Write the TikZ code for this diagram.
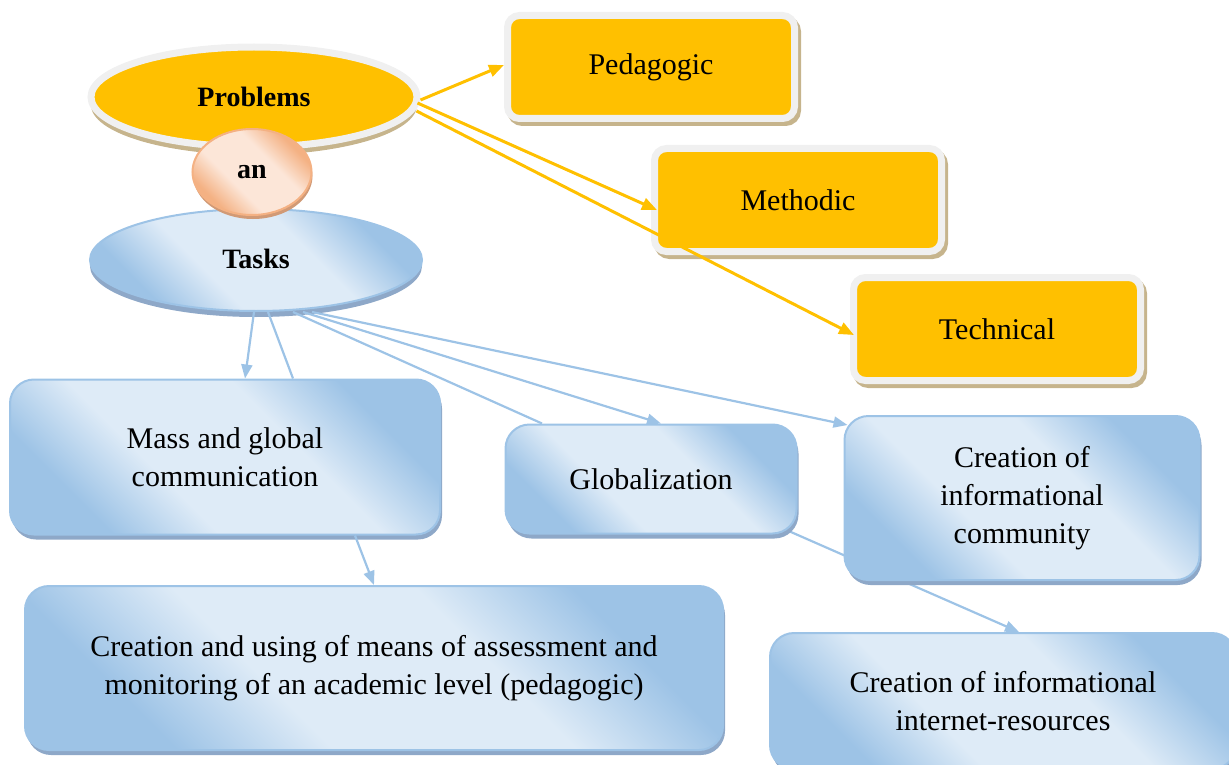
\documentclass[tikz,border=0pt]{standalone}
\usepackage{fontspec}
\setmainfont{Liberation Serif}
\usepackage{tikz}
\usetikzlibrary{shapes.geometric,arrows.meta}
\definecolor{probyellow}{HTML}{FFC000}
\definecolor{rimgrey}{HTML}{F0F0F0}
\definecolor{tanshadow}{HTML}{C6B48C}
\definecolor{blueedge}{HTML}{9DC3E6}
\definecolor{bluepale}{HTML}{DEEBF7}
\definecolor{blueshadow}{HTML}{8EA8C8}
\definecolor{peachedge}{HTML}{F4B183}
\definecolor{peachpale}{HTML}{FCE6D8}
\definecolor{peachshadow}{HTML}{D19A76}
\pgfdeclarehorizontalshading{bluesheen}{100bp}{color(0bp)=(blueedge); color(27bp)=(blueedge); color(40bp)=(bluepale); color(60bp)=(bluepale); color(73bp)=(blueedge); color(100bp)=(blueedge)}
\pgfdeclarehorizontalshading{peachsheen}{100bp}{color(0bp)=(peachedge); color(27bp)=(peachedge); color(40bp)=(peachpale); color(60bp)=(peachpale); color(73bp)=(peachedge); color(100bp)=(peachedge)}
\pgfdeclarelayer{background}
\pgfsetlayers{background,main}
\tikzstyle{every node}=[font=\fontsize{30}{38}\selectfont,align=center,inner sep=0pt]
\tikzstyle{yellowbox}=[rectangle,rounded corners=12pt,fill=probyellow,draw=rimgrey,line width=7pt,minimum width=287pt,minimum height=103pt,preaction={fill=tanshadow,draw=tanshadow,line width=7pt,transform canvas={shift={(3pt,-4pt)}}}]
\tikzstyle{bluebox}=[rectangle,rounded corners=24pt,shading=bluesheen,shading angle=45,draw=blueedge,line width=2pt,preaction={fill=blueshadow,transform canvas={shift={(2pt,-5pt)}}}]
\tikzstyle{bigellipse}=[ellipse,font=\fontsize{28}{34}\selectfont\bfseries]
\tikzstyle{yellowline}=[draw=probyellow,line width=3pt,-{Triangle[length=15pt,width=12pt]}]
\tikzstyle{blueline}=[draw=blueedge,line width=2.2pt]
\tikzstyle{bluearrow}=[blueline,-{Triangle[length=14pt,width=11pt]}]

\begin{document}
\begin{tikzpicture}[x=1pt,y=-1pt]
	\clip (0,0) rectangle (1229,765);
	\node[bigellipse,fill=probyellow,draw=rimgrey,line width=7pt,minimum width=326pt,minimum height=100pt,preaction={fill=tanshadow,transform canvas={shift={(0pt,-8pt)}}}] (prob) at (254,97) {Problems};
	\node[bigellipse,shading=bluesheen,shading angle=45,draw=blueedge,line width=2pt,minimum width=332pt,minimum height=102pt,preaction={fill=blueshadow,transform canvas={shift={(0pt,-6pt)}}}] (tasks) at (256,260) {\raisebox{2pt}{Tasks}};
	\node[bigellipse,shading=peachsheen,shading angle=45,draw=peachedge,line width=2pt,minimum width=119pt,minimum height=86pt,preaction={fill=peachshadow,transform canvas={shift={(1pt,-4pt)}}}] (an) at (252,172) {an};

	\node[yellowbox] (ped) at (651,67) {Pedagogic};
	\node[yellowbox] (meth) at (798,200) {Methodic};
	\node[yellowbox] (tech) at (997,329) {Technical};

	\node[bluebox,minimum width=430pt,minimum height=155pt] (mass) at (225,457) {Mass and global\\communication};
	\node[bluebox,minimum width=291pt,minimum height=109pt] (glob) at (651,479) {Globalization};
	\node[bluebox,minimum width=355pt,minimum height=164pt] (comm) at (1022,498) {Creation of\\informational\\community};
	\node[bluebox,minimum width=698pt,minimum height=164pt] (creat) at (374,668) {Creation and using of means of assessment and\\monitoring of an academic level (pedagogic)};
	\node[bluebox,minimum width=466pt,minimum height=136pt] (inet) at (1003,701) {Creation of informational\\internet-resources};

	\draw[yellowline] ([yshift=-3pt]prob.east) -- ([yshift=2pt]ped.west);
	\draw[yellowline] ([xshift=-3pt,yshift=-6pt]prob.east) -- ([xshift=6pt,yshift=-10pt]meth.west);
	\draw[yellowline] ([xshift=-4pt,yshift=-14pt]prob.east) -- ([xshift=4pt,yshift=-6pt]tech.west);

	\draw[bluearrow] ([xshift=-2pt]tasks.south) -- ([xshift=20pt]mass.north);
	\draw[blueline] ([xshift=12pt]tasks.south) -- ([xshift=68pt]mass.north);
	\draw[blueline] ([xshift=37pt]tasks.south) -- ([xshift=-109pt]glob.north);
	\draw[bluearrow] ([xshift=47pt]tasks.south) -- ([xshift=10pt]glob.north);
	\draw[bluearrow] ([xshift=56pt]tasks.south) -- ([xshift=4pt,yshift=-10pt]comm.north west);
	\draw[bluearrow] ([xshift=130pt]mass.south) -- (creat.north);
	\begin{pgfonlayer}{background}
		\draw[bluearrow] ([xshift=-10pt,yshift=4pt]glob.south east) -- ([xshift=16pt]inet.north);
	\end{pgfonlayer}
\end{tikzpicture}
\end{document}
